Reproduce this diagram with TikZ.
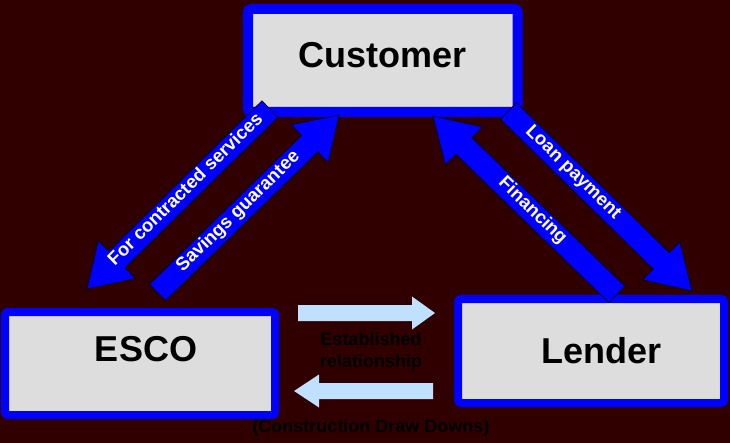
\documentclass[tikz,border=0pt]{standalone}
\usepackage{fontspec}
\setmainfont{Liberation Sans}
\usetikzlibrary{calc}
\definecolor{bgcol}{HTML}{300000}
\definecolor{boxblue}{HTML}{0000FF}
\definecolor{boxfill}{HTML}{DDDDDD}
\definecolor{lightarrow}{HTML}{BFE0FF}
\tikzset{
  boxnode/.style={draw=boxblue, fill=boxfill, rounded corners=3pt, inner sep=0pt, outer sep=0pt},
  boxtext/.style={font=\fontsize{36pt}{40pt}\selectfont\bfseries, text=black, inner sep=0pt, anchor=base},
  arrowtext/.style={font=\fontsize{18.5pt}{20pt}\selectfont\bfseries, text=white, inner sep=0pt,
    text height=0.905em, text depth=0.212em},
  darktext/.style={font=\fontsize{18pt}{22pt}\selectfont\bfseries, text=black, inner sep=0pt},
  bluearrow/.style={fill=boxblue, draw=black, line width=0.6pt, line join=miter},
  palearrow/.style={fill=lightarrow},
}
% #1 style, #2 tail, #3 tip, #4 shaft half width, #5 head half width, #6 head length
\newcommand\arrowshape[6]{%
  \coordinate (hb) at ($(#3)!#6!(#2)$);
  \path[#1]
    ($(#2)!#4!90:(#3)$) -- ($(hb)!#4!90:(#3)$) -- ($(hb)!#5!90:(#3)$) -- (#3)
    -- ($(hb)!#5!-90:(#3)$) -- ($(hb)!#4!-90:(#3)$) -- ($(#2)!#4!-90:(#3)$) -- cycle;
}
\begin{document}
\begin{tikzpicture}[x=1pt,y=-1pt]
\useasboundingbox (0,0) rectangle (730,443);
\fill[bgcol] (0,0) rectangle (730,443);

% boxes
\node[boxnode, line width=10pt, minimum width=269.5pt, minimum height=103pt] (customer) at (382.75,60.5) {};
\node[boxnode, line width=8pt, minimum width=270pt, minimum height=103pt] (esco) at (140,363.5) {};
\node[boxnode, line width=8pt, minimum width=266pt, minimum height=104pt] (lender) at (591,351) {};

\node[boxtext] (customertext) at (382.5,68) {Customer};
\node[boxtext] (escotext) at (146,361) {ESCO};
\node[boxtext] (lendertext) at (601.5,363) {Lender};

% blue arrows
\coordinate (fcTail) at (270,109);  \coordinate (fcTip) at (87,289);
\coordinate (sgTail) at (157.5,292.5); \coordinate (sgTip) at (339,115);
\coordinate (fiTail) at (617,294.5); \coordinate (fiTip) at (433,116);
\coordinate (lpTail) at (508.5,111); \coordinate (lpTip) at (692,291);

\arrowshape{bluearrow}{fcTail}{fcTip}{11.5pt}{26.5pt}{42pt}
\path (fcTail) -- (fcTip) node[pos=0.454, sloped, arrowtext] (fctext) {For contracted services};
\arrowshape{bluearrow}{sgTail}{sgTip}{11.5pt}{26.5pt}{41pt}
\path (sgTail) -- (sgTip) node[pos=0.45, sloped, arrowtext] (sgtext) {Savings guarantee};
\arrowshape{bluearrow}{fiTail}{fiTip}{11.5pt}{26.5pt}{43pt}
\path (fiTail) -- (fiTip) node[pos=0.464, sloped, arrowtext] (fitext) {Financing};
\arrowshape{bluearrow}{lpTail}{lpTip}{11.5pt}{26.5pt}{43pt}
\path (lpTail) -- (lpTip) node[pos=0.347, sloped, arrowtext] (lptext) {Loan payment};

% pale arrows between ESCO and Lender
\coordinate (erTail) at (298,313); \coordinate (erTip) at (435,313);
\coordinate (cdTail) at (433,391); \coordinate (cdTip) at (294,391);
\arrowshape{palearrow}{erTail}{erTip}{8pt}{16.5pt}{23pt}
\arrowshape{palearrow}{cdTail}{cdTip}{8pt}{16.5pt}{25pt}

\node[darktext, anchor=base] (esttext) at (371,345) {Established};
\node[darktext, anchor=base] (reltext) at (371,367) {relationship};
\node[darktext, anchor=base] (cddtext) at (371,432) {(Construction Draw Downs)};
\end{tikzpicture}
\end{document}
